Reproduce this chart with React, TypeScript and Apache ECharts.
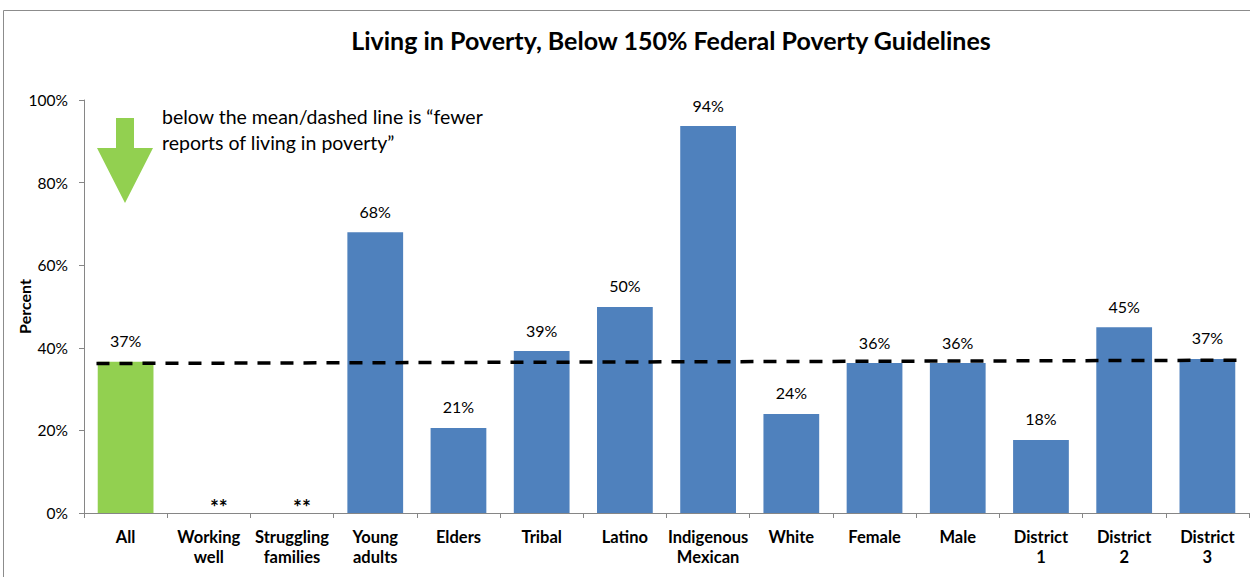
import React, { useEffect, useRef } from "react";
import * as echarts from "echarts";

const categories = [
  "All", "Working\nwell", "Struggling\nfamilies", "Young\nadults", "Elders", "Tribal", "Latino",
  "Indigenous\nMexican", "White", "Female", "Male", "District\n1", "District\n2", "District\n3",
];
const values: (number | null)[] = [36.6, null, null, 68, 20.6, 39.2, 49.9, 93.7, 24, 36.3, 36.3, 17.7, 45, 37.3];
const valueLabels = ["37%", "**", "**", "68%", "21%", "39%", "50%", "94%", "24%", "36%", "36%", "18%", "45%", "37%"];
const meanLine: [number, number][] = [[0.15, 36.2], [13.96, 37.0]];
const yTicks = [0, 20, 40, 60, 80, 100];

const FONT = "Lato, 'Open Sans', sans-serif";

export default function App() {
  const ref = useRef<HTMLDivElement>(null);
  useEffect(() => {
    document.body.style.margin = "0";
    const chart = echarts.init(ref.current!, null, { renderer: "svg" });
    const data = values.map((v, i) => {
      if (v === null) {
        return {
          value: 0,
          itemStyle: { color: "#000000" },
          label: {
            formatter: valueLabels[i],
            fontWeight: "bold",
            fontSize: 21,
            distance: 0,
            offset: [10, 4],
            color: "#000000",
          },
        };
      }
      return {
        value: v,
        itemStyle: { color: i === 0 ? "#92D050" : "#4F81BD" },
        label: { formatter: valueLabels[i] },
      };
    });
    chart.setOption({
      animation: false,
      textStyle: { fontFamily: FONT },
      title: {
        text: "Living in Poverty, Below 150% Federal Poverty Guidelines",
        left: 666,
        textAlign: "center",
        top: 22,
        textStyle: { fontFamily: FONT, fontSize: 25, fontWeight: "bold", color: "#000" },
      },
      grid: { left: 84, right: 1, top: 100, bottom: 64, containLabel: false, outerBoundsMode: "none" },
      xAxis: [
        {
          type: "category",
          data: categories,
          axisLine: { lineStyle: { color: "#868686", width: 1 } },
          axisTick: { show: true, alignWithLabel: false, length: 5, lineStyle: { color: "#868686" } },
          axisLabel: {
            interval: 0,
            color: "#000",
            fontWeight: "bold",
            fontSize: 16.5,
            lineHeight: 20,
            margin: 14,
            fontFamily: FONT,
          },
        },
        { type: "value", min: 0, max: 14, show: false },
      ],
      yAxis: {
        type: "value",
        min: 0,
        max: 100,
        interval: 20,
        name: "Percent",
        nameLocation: "middle",
        nameGap: 52,
        nameMoveOverlap: false,
        nameTextStyle: { fontWeight: "bold", fontSize: 16, color: "#000", fontFamily: FONT },
        axisLine: { show: true, lineStyle: { color: "#868686" } },
        axisTick: { show: true, length: 5, lineStyle: { color: "#868686" } },
        splitLine: { show: false },
        axisLabel: {
          color: "#000",
          fontSize: 15.5,
          margin: 16,
          fontFamily: FONT,
          formatter: (v: number) => (yTicks.includes(v) ? v + "%" : ""),
        },
      },
      series: [
        {
          type: "bar",
          data,
          barWidth: "67%",
          xAxisIndex: 0,
          label: {
            show: true,
            position: "top",
            distance: 13,
            color: "#000",
            fontSize: 16,
            fontFamily: FONT,
          },
        },
        {
          type: "line",
          xAxisIndex: 1,
          data: meanLine,
          symbol: "none",
          lineStyle: { color: "#000", width: 3.5, type: [13, 10] },
          z: 5,
        },
      ],
      graphic: [
        {
          type: "rect",
          shape: { x: 3.5, y: 10.5, width: 1300, height: 700 },
          style: { fill: "none", stroke: "#8c8c8c", lineWidth: 1 },
          silent: true,
        },
        {
          type: "polygon",
          shape: {
            points: [
              [116, 118], [134, 118], [134, 148], [153, 148], [125, 203], [97, 148], [116, 148],
            ],
          },
          style: { fill: "#92D050" },
        },
        {
          type: "text",
          x: 162,
          y: 103,
          style: {
            text: "below the mean/dashed line is \u201cfewer\nreports of living in poverty\u201d",
            fontSize: 19.5,
            lineHeight: 26,
            fontFamily: FONT,
            fill: "#000",
          },
        },
      ],
    });
    return () => chart.dispose();
  }, []);
  return <div ref={ref} style={{ width: 1250, height: 577 }} />;
}
